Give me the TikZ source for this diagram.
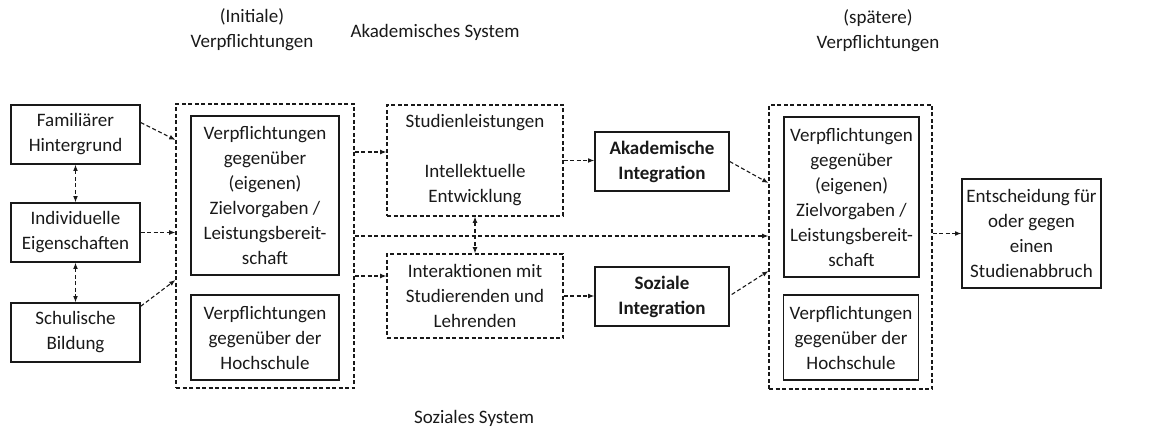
\documentclass[tikz,border=0pt]{standalone}
\usepackage{fontspec}
\setmainfont{Carlito}
\usetikzlibrary{arrows.meta,positioning,calc}
\definecolor{ink}{RGB}{25,25,25}

\begin{document}
\begin{tikzpicture}[x=1pt, y=-1pt,
  box/.style={draw=ink, line width=1.4pt, align=center, inner sep=0pt,
    font=\fontsize{19}{25}\selectfont, text=ink},
  dbox/.style={box, line width=1.1pt, dash pattern=on 4pt off 2.5pt},
  arrow/.style={-{Latex[length=2.2mm,width=1.7mm]}, line width=1.1pt, draw=ink,
    dash pattern=on 4pt off 2.5pt},
  darrow/.style={arrow, {Latex[length=2.2mm,width=1.7mm]}-{Latex[length=2.2mm,width=1.7mm]}},
  lab/.style={align=center, font=\fontsize{19}{25}\selectfont, text=ink}
]
\useasboundingbox (0,0) rectangle (1151,430);
% left column
\node[box, minimum width=129pt, minimum height=59pt] (fam) at (75.5,134.5) {Familiärer\\Hintergrund};
\node[box, minimum width=129pt, minimum height=59pt] (indiv) at (75.5,232.5) {Individuelle\\Eigenschaften};
\node[box, minimum width=129pt, minimum height=59pt] (schul) at (75.5,332.5) {Schulische\\Bildung};
% initial commitments
\node[dbox, minimum width=178pt, minimum height=284pt] (initbox) at (265,246) {};
\node[box, minimum width=148pt, minimum height=159pt] (initziel) at (265,195.5) {Verpflichtungen\\gegenüber\\(eigenen)\\Zielvorgaben /\\Leistungsbereit-\\schaft};
\node[box, minimum width=148pt, minimum height=85pt] (inithoch) at (265,337.5) {Verpflichtungen\\gegenüber der\\Hochschule};
% systems
\node[dbox, minimum width=176pt, minimum height=111pt] (studl) at (475,160.5) {Studienleistungen\\ \\Intellektuelle\\Entwicklung};
\node[dbox, minimum width=176pt, minimum height=84pt] (inter) at (475,296) {Interaktionen mit\\Studierenden und\\Lehrenden};
\node[box, minimum width=134pt, minimum height=59pt, font=\fontsize{19}{25}\selectfont\bfseries] (akint) at (662,161.5) {Akademische\\Integration};
\node[box, minimum width=134pt, minimum height=59pt, font=\fontsize{19}{25}\selectfont\bfseries] (sozint) at (662,296.5) {Soziale\\Integration};
% later commitments
\node[dbox, minimum width=163pt, minimum height=284pt] (latebox) at (850.5,247) {};
\node[box, minimum width=135pt, minimum height=160pt] (lateziel) at (851.5,197) {Verpflichtungen\\gegenüber\\(eigenen)\\Zielvorgaben /\\Leistungsbereit-\\schaft};
\node[box, minimum width=135pt, minimum height=85pt] (latehoch) at (851,337.5) {Verpflichtungen\\gegenüber der\\Hochschule};
\node[box, minimum width=139pt, minimum height=109pt] (entsch) at (1031.5,233.5) {Entscheidung für\\oder gegen\\einen\\Studienabbruch};
% titles
\node[lab] (tinit) at (252,30) {(Initiale)\\Verpflichtungen};
\node[lab] (takad) at (435,32) {Akademisches System};
\node[lab] (tlate) at (878,31) {(spätere)\\Verpflichtungen};
\node[lab] (tsoz) at (474,418) {Soziales System};
% connectors
\draw[darrow] (fam.south) -- (indiv.north);
\draw[darrow] (indiv.south) -- (schul.north);
\draw[arrow] ([yshift=12pt]fam.east) -- ([yshift=106pt]initbox.west);
\draw[arrow] (indiv.east) -- (indiv.east -| initbox.west);
\draw[arrow] ([yshift=-4pt]schul.north east) -- ([yshift=-34pt]initbox.west);
\draw[arrow] ([yshift=94pt]initbox.east) -- ([yshift=8.5pt]studl.west);
\draw[arrow] ([yshift=-30pt]initbox.east) -- ([yshift=20pt]inter.west);
\draw[arrow] ([yshift=10pt]initbox.east) -- ([yshift=11pt]latebox.west);
\draw[darrow] (studl.south) -- (inter.north);
\draw[arrow] (studl.east) -- (studl.east -| akint.west);
\draw[arrow] (inter.east) -- (inter.east -| sozint.west);
\draw[arrow] (akint.east) -- ([yshift=64pt]latebox.west);
\draw[arrow] ([xshift=2pt,yshift=2pt]sozint.east) -- ([yshift=-24pt]latebox.west);
\draw[arrow] (entsch.west -| latebox.east) -- (entsch.west);
\end{tikzpicture}
\end{document}
